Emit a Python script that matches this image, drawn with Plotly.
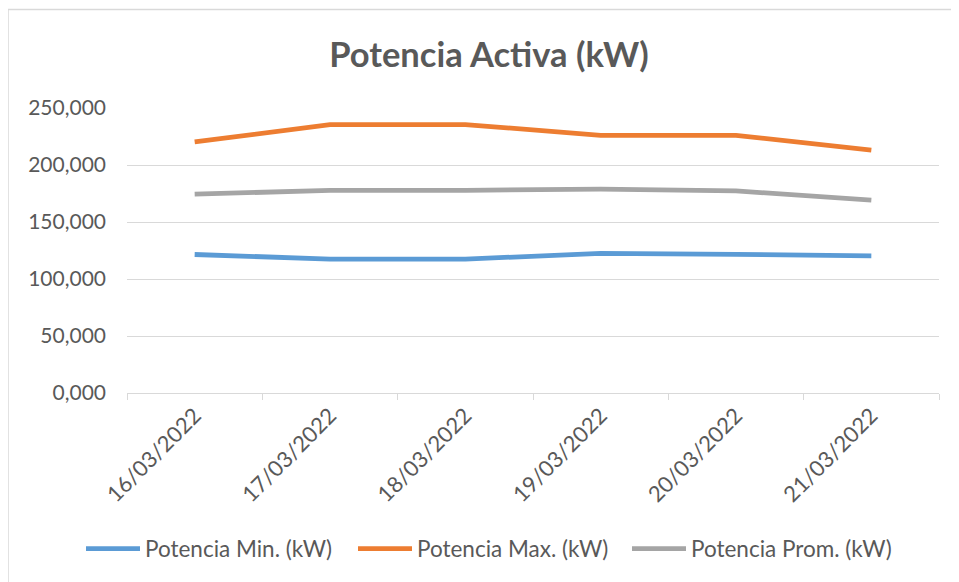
import plotly.graph_objects as go

fechas = ["16/03/2022", "17/03/2022", "18/03/2022", "19/03/2022", "20/03/2022", "21/03/2022"]
pot_min = [121500, 117500, 117500, 122400, 121600, 120300]
pot_max = [220200, 235500, 235500, 226000, 226000, 213000]
pot_prom = [174400, 177800, 177800, 178800, 177300, 169200]
y_ticks = [0, 50000, 100000, 150000, 200000, 250000]
y_ticktext = ["0,000", "50,000", "100,000", "150,000", "200,000", "250,000"]

FONT = "Lato"
GREY = "#595959"

OFF = 8  # page body margin
W, H = 959 - OFF, 582 - OFF
# reference pixel positions (page coords)
PL, PR, PT, PB = 127, 939, 108, 393
L, R, T, B = PL - OFF, 959 - PR, PT - OFF, 582 - PB
PW, PH = PR - PL, PB - PT

def px(x):
    return (x - PL) / PW

def py(y):
    return (PB - y) / PH

fig = go.Figure()
series = [
    ("Potencia Min. (kW)", pot_min, "#5b9bd5", "legend", 86),
    ("Potencia Max. (kW)", pot_max, "#ed7d31", "legend2", 358),
    ("Potencia Prom. (kW)", pot_prom, "#a5a5a5", "legend3", 632),
]
legends = {}
for name, vals, col, leg, lx in series:
    fig.add_trace(go.Scatter(x=fechas, y=vals, name=name, mode="lines", legend=leg,
                             line=dict(color=col, width=4.8, shape="linear")))
    legends[leg] = dict(orientation="h", xref="container", x=(lx - OFF - 5) / W, xanchor="left",
                        yref="container", y=1 - (549 - OFF) / H, yanchor="middle",
                        font=dict(family=FONT, size=22.5, color=GREY),
                        itemwidth=54, bgcolor="rgba(0,0,0,0)")

fig.update_layout(
    width=W, height=H,
    margin=dict(l=L, r=R, t=T, b=B, autoexpand=False),
    paper_bgcolor="white", plot_bgcolor="white",
    font=dict(family=FONT, color=GREY),
    title=dict(text="<b>Potencia Activa (kW)</b>", x=(489 - OFF) / W, xanchor="center",
               y=1 - (55 - OFF) / H, yanchor="middle", yref="container", xref="container",
               font=dict(family=FONT, size=34.5, color=GREY)),
    showlegend=True,
    shapes=[
        dict(type="line", xref="paper", yref="paper",
             x0=px(8), x1=px(8), y0=py(9.5), y1=py(620),
             line=dict(color="#d9d9d9", width=1.5)),
        dict(type="line", xref="paper", yref="paper",
             x0=px(8), x1=px(1000), y0=py(9.5), y1=py(9.5),
             line=dict(color="#d9d9d9", width=1.5)),
    ],
    **legends,
)

fig.update_xaxes(
    type="category", range=[-0.5, len(fechas) - 0.5], tickson="boundaries",
    ticks="outside", ticklen=6,
    tickcolor="#d9d9d9", tickwidth=1.3, showline=True, linecolor="#d9d9d9", linewidth=1.3,
    showgrid=False, tickangle=-45,
    tickfont=dict(family=FONT, size=22, color=GREY),
)
fig.update_yaxes(
    range=[0, 250000], tickvals=y_ticks, ticktext=y_ticktext,
    showgrid=True, gridcolor="#d9d9d9", gridwidth=1.3, zeroline=False,
    showline=False, ticks="", ticklabelstandoff=20,
    tickfont=dict(family=FONT, size=21, color=GREY),
)

fig.write_html("out.html")
